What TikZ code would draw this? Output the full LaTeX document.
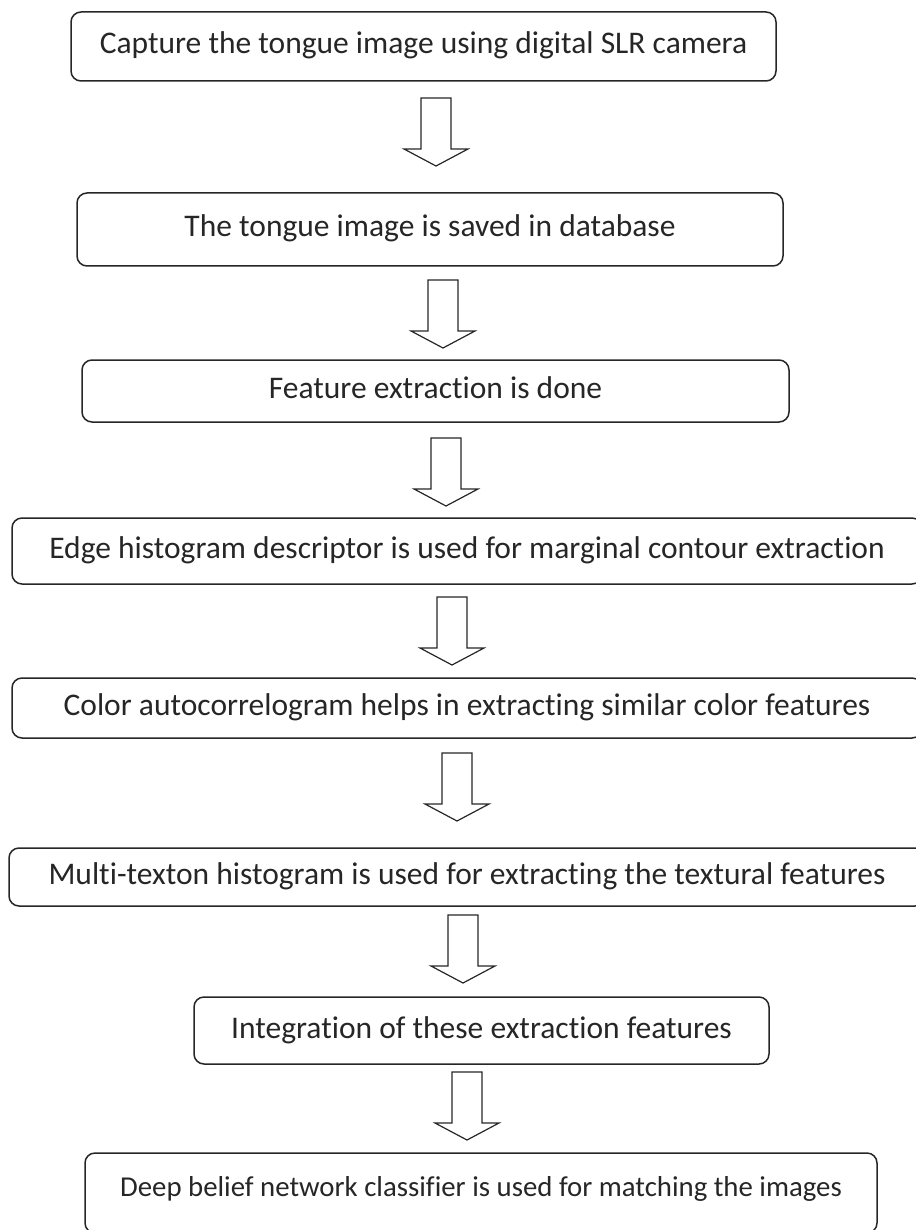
\documentclass[tikz,border=0pt]{standalone}
\usepackage{fontspec}
\setmainfont{Carlito}[Ligatures=NoCommon]

\tikzset{
  flowbox/.style={draw=black!85, line width=1.5pt, rounded corners=10pt, inner sep=0pt,
    text height=22pt, text depth=7pt, text=black!85, font=\fontsize{31.5}{37}\selectfont},
  blockarrow/.style={draw=black!85, line width=1.2pt, line join=miter}
}

\begin{document}
\begin{tikzpicture}[x=1pt,y=-1pt]
\useasboundingbox (0,0) rectangle (915,1230);

\node [flowbox, minimum width=705pt, minimum height=69pt] (capture) at (423.5,46.5) {Capture the tongue image using digital SLR camera};
\node [flowbox, minimum width=706pt, minimum height=73pt] (saved) at (430,229.5) {The tongue image is saved in database};
\node [flowbox, minimum width=707pt, minimum height=62pt] (feature) at (435.5,391) {Feature extraction is done};
\node [flowbox, minimum width=910pt, minimum height=66pt] (edge) at (467,551) {Edge histogram descriptor is used for marginal contour extraction};
\node [flowbox, minimum width=910pt, minimum height=60pt] (color) at (467,708) {Color autocorrelogram helps in extracting similar color features};
\node [flowbox, minimum width=916pt, minimum height=58pt] (texton) at (467,877) {Multi-texton histogram is used for extracting the textural features};
\node [flowbox, minimum width=575pt, minimum height=67pt] (integrate) at (481.5,1030.5) {Integration of these extraction features};
\node [flowbox, minimum width=792pt, minimum height=80pt, text height=20pt, text depth=14pt,
  font=\fontsize{28.8}{34}\selectfont] (dbn) at (481,1193) {Deep belief network classifier is used for matching the images};

\foreach \i/\cx/\top in {1/436/98, 2/443/280, 3/446/438, 4/452/597, 5/457/753, 6/463/915, 7/467/1072}
{
  \coordinate (a\i) at (\cx,\top);
  \draw [blockarrow] (a\i) ++(-15,0) -- ++(30,0) -- ++(0,51) -- ++(17,0) -- ++(-32,17) -- ++(-32,-17) -- ++(17,0) -- cycle;
}

\end{tikzpicture}
\end{document}
